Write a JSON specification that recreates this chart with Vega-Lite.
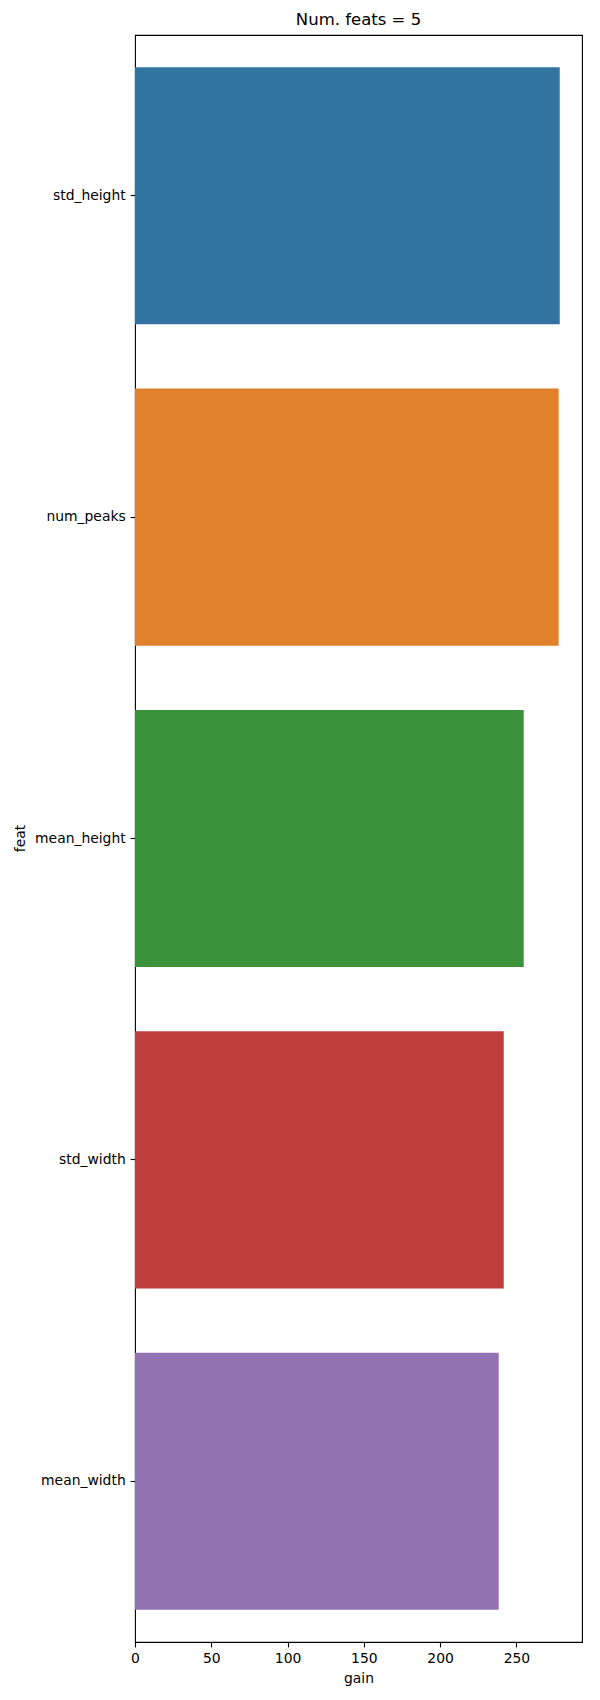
{
  "$schema": "https://vega.github.io/schema/vega-lite/v6.json",
  "autosize": {"type": "none"},
  "width": 447,
  "height": 1607,
  "padding": {"left": 135, "top": 35, "right": 18, "bottom": 58},
  "background": "white",
  "title": {"text": "Num. feats = 5", "font": "DejaVu Sans", "fontSize": 16.5, "fontWeight": "normal", "color": "black", "offset": 7},
  "data": {"values": [
    {"feat": "std_height", "gain": 278.4},
    {"feat": "num_peaks", "gain": 277.7},
    {"feat": "mean_height", "gain": 254.8},
    {"feat": "std_width", "gain": 241.7},
    {"feat": "mean_width", "gain": 238.4}
  ]},
  "mark": {"type": "bar"},
  "encoding": {
    "y": {"field": "feat", "type": "nominal", "sort": null,
      "scale": {"paddingInner": 0.2, "paddingOuter": 0.1},
      "axis": {"title": "feat", "domain": false, "grid": false, "labelFont": "DejaVu Sans", "labelFontSize": 13.9, "labelColor": "black", "tickColor": "black", "tickSize": 4.9, "tickWidth": 1.1, "labelPadding": 4.9,
        "titleFont": "DejaVu Sans", "titleFontSize": 13.9, "titleFontWeight": "normal", "titleColor": "black", "titleX": -115, "titleY": 803, "titleAngle": -90, "titleAlign": "center", "titleBaseline": "middle"}},
    "x": {"field": "gain", "type": "quantitative", "scale": {"domain": [0, 293], "nice": false, "zero": true},
      "axis": {"title": "gain", "values": [0, 50, 100, 150, 200, 250], "domain": false, "grid": false, "labelFont": "DejaVu Sans", "labelFontSize": 13.9, "labelColor": "black", "tickColor": "black", "tickSize": 4.9, "tickWidth": 1.1, "labelPadding": 4.9, "labelFlush": false,
        "titleFont": "DejaVu Sans", "titleFontSize": 13.9, "titleFontWeight": "normal", "titleColor": "black", "titleY": 36, "titleBaseline": "middle"}},
    "color": {"field": "feat", "type": "nominal", "sort": null, "legend": null,
      "scale": {"domain": ["std_height", "num_peaks", "mean_height", "std_width", "mean_width"], "range": ["#3274a1", "#e1812c", "#3a923a", "#c03d3e", "#9372b2"]}}
  },
  "config": {"view": {"stroke": "black", "strokeWidth": 1.1}}
}
